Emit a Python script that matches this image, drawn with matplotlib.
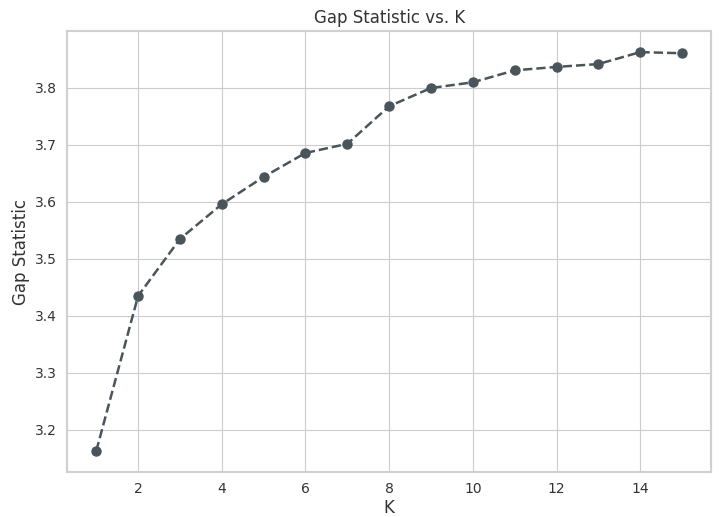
import matplotlib
matplotlib.use("Agg")
import matplotlib.pyplot as plt
import seaborn as sns

k_values = list(range(1, 16))
gap_values = [3.163, 3.435, 3.535, 3.596, 3.644, 3.686, 3.702, 3.768,
              3.800, 3.810, 3.831, 3.837, 3.842, 3.863, 3.861]
y_ticks = [3.2, 3.3, 3.4, 3.5, 3.6, 3.7, 3.8]

sns.set_style("whitegrid")
plt.rcParams['font.family'] = ['DejaVu Sans']

fig, ax = plt.subplots(figsize=(7.2, 5.17), dpi=100)
ax.plot(k_values, gap_values, marker='o', linestyle='--', color='#4a555b',
        linewidth=1.8, markersize=6.5)
ax.set_title('Gap Statistic vs. K', fontsize=12, color='#333333')
ax.set_xlabel('K', fontsize=12, color='#333333', labelpad=2)
ax.set_ylabel('Gap Statistic', fontsize=12, color='#333333')
ax.tick_params(labelsize=10, colors='#333333')
ax.set_ylim(3.126, 3.9)
ax.set_yticks(y_ticks)
ax.set_xticks([2, 4, 6, 8, 10, 12, 14])
for s in ax.spines.values():
    s.set_color('#d0d0d0')
    s.set_linewidth(1.5)
fig.subplots_adjust(left=0.093, right=0.988, top=0.94, bottom=0.087)
fig.savefig('out.png', dpi=100)
